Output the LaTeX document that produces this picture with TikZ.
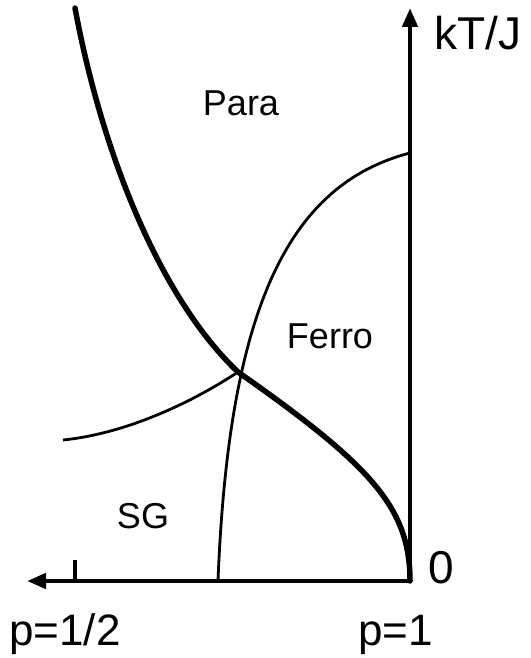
\documentclass[tikz,border=0pt]{standalone}
\usepackage{fontspec}
\setmainfont{Liberation Sans}
\usetikzlibrary{arrows.meta}
\tikzset{
  axisline/.style={line width=4.5pt, -{Triangle[length=19pt,width=15pt]}},
  thickcurve/.style={line width=5.5pt, line cap=round},
  thincurve/.style={line width=2.8pt},
  biglabel/.style={inner sep=0pt, font=\fontsize{46}{54}\selectfont},
  axlabel/.style={inner sep=0pt, font=\fontsize{44}{52}\selectfont},
  phaselabel/.style={inner sep=0pt, font=\fontsize{36}{42}\selectfont},
}
\begin{document}
\begin{tikzpicture}[x=1pt,y=-1pt]
\useasboundingbox (0,0) rectangle (530,658);
% named points
\coordinate (O) at (410,581);
\coordinate (Ytip) at (410,8);
\coordinate (Xtip) at (27,581);
\coordinate (Tick) at (75,581);
\coordinate (TickTop) at (75,560);
\coordinate (M) at (238,372);
\coordinate (T) at (75,8);
\coordinate (F) at (410,153);
\coordinate (B) at (218,581);
\coordinate (S) at (63,440);
% axes
\draw[axisline] (O) -- (Ytip);
\draw[axisline] (O) -- (Xtip);
\draw[line width=4.5pt] (Tick) -- (TickTop);
% thick curve
\draw[thickcurve] (T) .. controls (103,158) and (162,300) .. (M)
  .. controls (372,466) and (410,508) .. (O);
% para-ferro boundary
\draw[thincurve] (F) .. controls (286,185) and (228.5,313) .. (B);
% SG boundary
\draw[thincurve] (S) .. controls (123,434) and (188,405) .. (M);
% labels
\node[biglabel, anchor=base west] (kt) at (434,50) {kT/J};
\node[biglabel, anchor=base west] (zero) at (428,583) {0};
\node[axlabel, anchor=base west] (phalf) at (9,645) {p=1/2};
\node[axlabel, anchor=base west] (pone) at (358,645) {p=1};
\node[phaselabel, anchor=base] (para) at (241,116) {Para};
\node[phaselabel, anchor=base] (ferro) at (330,348) {Ferro};
\node[phaselabel, anchor=base] (sg) at (143,528) {SG};
\end{tikzpicture}
\end{document}
